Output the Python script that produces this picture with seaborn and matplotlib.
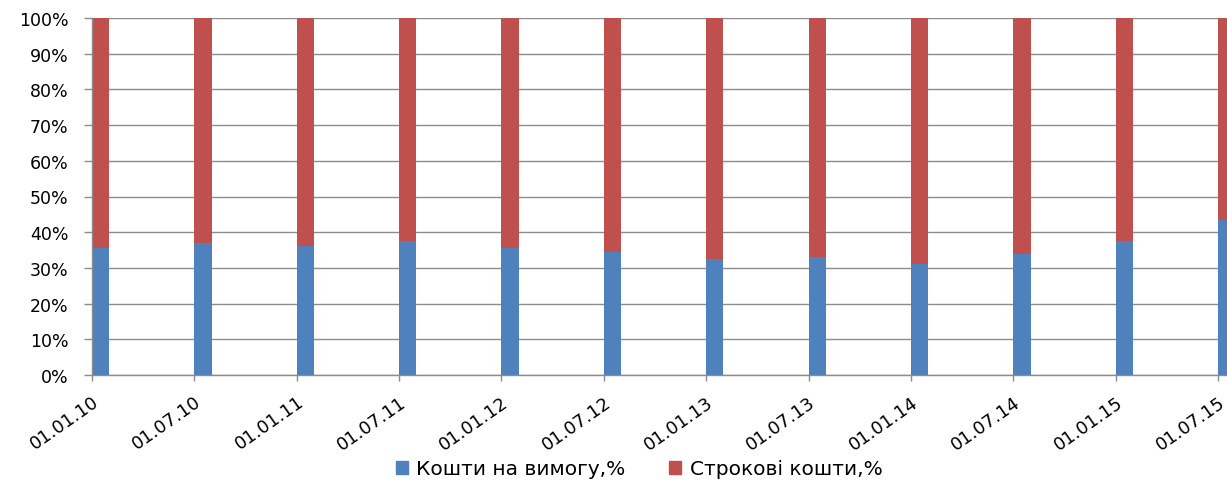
import numpy as np
import pandas as pd
import matplotlib.pyplot as plt
import seaborn as sns
from matplotlib.patches import Patch

# values (share of demand deposits, %)

dates = ['01.01.10', '01.07.10', '01.01.11', '01.07.11', '01.01.12', '01.07.12',
         '01.01.13', '01.07.13', '01.01.14', '01.07.14', '01.01.15', '01.07.15']
demand_pct = [35.6, 37.0, 36.1, 37.5, 35.5, 34.5, 32.5, 33.0, 31.1, 33.9, 37.6, 43.4]
term_pct = [100 - v for v in demand_pct]
series_names = ['Кошти на вимогу,%', 'Строкові кошти,%']
blue = '#4F81BD'
red = '#C0504D'

df = pd.DataFrame({'date': dates, 'demand': demand_pct, 'term': term_pct})
df['total'] = df['demand'] + df['term']

sns.set_theme(style='white')
plt.rcParams['font.family'] = ['DejaVu Sans']

fig = plt.figure(figsize=(12.27, 4.81), dpi=100)
ax = fig.add_axes([92 / 1227, 1 - 376 / 481, (1227 - 92) / 1227, 357 / 481])

w = 0.169
# stacked 100% bars: full bar in red, demand share in blue on top of it
sns.barplot(data=df, x='date', y='total', color=red, width=w, saturation=1,
            linewidth=0, errorbar=None, ax=ax)
sns.barplot(data=df, x='date', y='demand', color=blue, width=w, saturation=1,
            linewidth=0, errorbar=None, ax=ax)

step = 102.36  # px between category ticks in the reference
ax.set_xlim(-w / 2, -w / 2 + (1227 - 92) / step)
ax.set_ylim(0, 100)
ax.set_xticks(np.arange(len(dates)) - w / 2)
ax.set_xticklabels(dates, rotation=35, ha='right', rotation_mode='anchor', fontsize=13)
ax.set_yticks(np.arange(0, 101, 10))
ax.set_yticklabels([f'{v}%' for v in range(0, 101, 10)], fontsize=12.5)
ax.set_xlabel('')
ax.set_ylabel('')

ax.yaxis.grid(True, color='#8c8c8c', linewidth=1)
ax.set_axisbelow(True)
for side in ['top', 'right']:
    ax.spines[side].set_visible(False)
for side in ['left', 'bottom']:
    ax.spines[side].set_color('#8c8c8c')
    ax.spines[side].set_linewidth(1)
ax.tick_params(axis='y', left=True, length=6, width=1, color='#8c8c8c', pad=11, labelcolor='black')
ax.tick_params(axis='x', bottom=True, length=4.5, width=1, color='#8c8c8c', pad=8, labelcolor='black')

handles = [Patch(color=blue), Patch(color=red)]
fig.legend(handles, series_names, loc='center', bbox_to_anchor=(639 / 1227, 1 - 470 / 481),
           ncol=2, frameon=False, fontsize=14.5, handlelength=0.6, handleheight=0.6,
           handletextpad=0.4, columnspacing=2.2, labelcolor='black')

fig.savefig('out.png', dpi=100)
